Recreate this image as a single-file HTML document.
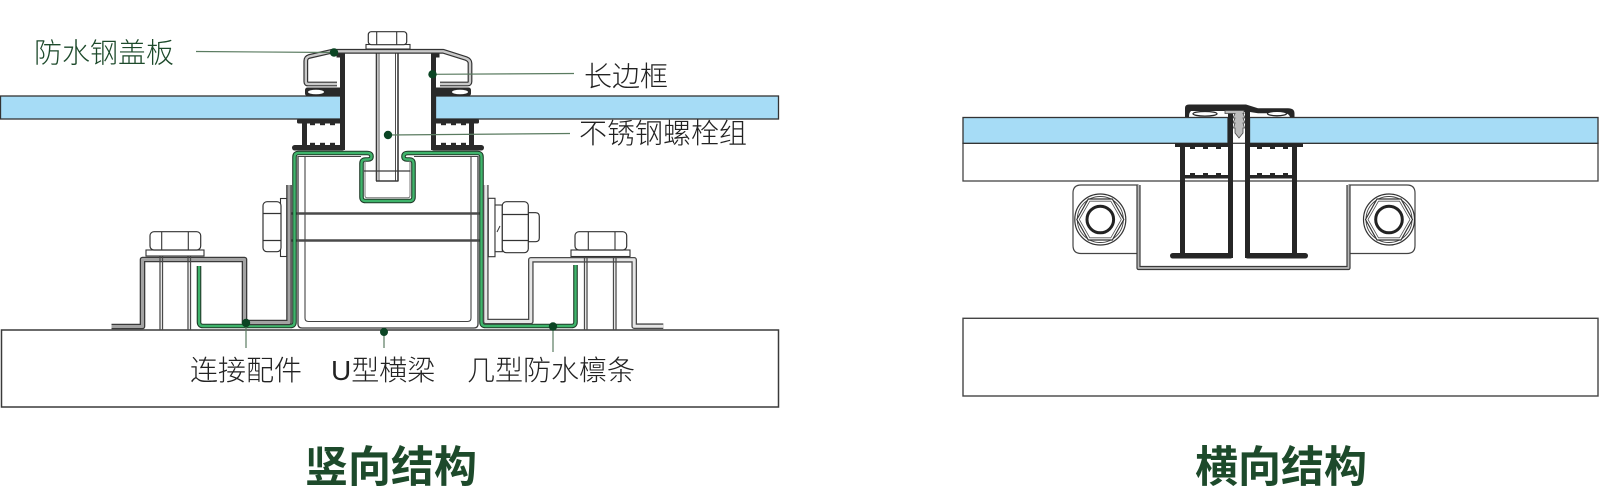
<!DOCTYPE html>
<html>
<head>
<meta charset="utf-8">
<style>
html,body{margin:0;padding:0;background:#fff;}
svg{display:block;}
text{font-family:"Liberation Sans","Noto Sans CJK SC",sans-serif;}
</style>
</head>
<body>
<svg width="1600" height="500" viewBox="0 0 1600 500" xmlns="http://www.w3.org/2000/svg">
<defs>
  <g id="bolt">
    <circle cx="0" cy="0" r="25.5" fill="#fff" stroke="#333" stroke-width="1.2"/>
    <circle cx="0" cy="0" r="23" fill="none" stroke="#444" stroke-width="0.9"/>
    <polygon points="-23.5,0 -12,-20.5 12,-20.5 23.5,0 12,20.5 -12,20.5" fill="#fff" stroke="#333" stroke-width="1.2"/>
    <polygon points="-21,0 -10.5,-18.3 10.5,-18.3 21,0 10.5,18.3 -10.5,18.3" fill="none" stroke="#555" stroke-width="0.8"/>
    <circle cx="0" cy="0" r="13.3" fill="#fff" stroke="#222" stroke-width="3"/>
  </g>
  <g id="prof">
    <!-- left aluminium frame of vertical structure -->
    <rect x="340" y="53" width="5" height="97" fill="#2a2a2a"/>
    <rect x="336.5" y="53" width="5" height="4.5" fill="#2a2a2a"/>
    <rect x="305" y="87.5" width="40" height="8.5" rx="2.5" fill="#2a2a2a"/>
    <ellipse cx="316" cy="92" rx="8" ry="2.3" fill="#fff"/>
    <rect x="297" y="119" width="48" height="4.5" rx="1.5" fill="#2a2a2a"/>
    <rect x="302" y="119" width="5" height="29" fill="#2a2a2a"/>
    <rect x="292" y="145" width="53" height="5.5" rx="2.7" fill="#2a2a2a"/>
    <rect x="310" y="123" width="5" height="2.2" fill="#2a2a2a"/>
    <rect x="320" y="123" width="5" height="2.2" fill="#2a2a2a"/>
    <rect x="330" y="123" width="5" height="2.2" fill="#2a2a2a"/>
    <rect x="310" y="142.8" width="5" height="2.2" fill="#2a2a2a"/>
    <rect x="320" y="142.8" width="5" height="2.2" fill="#2a2a2a"/>
    <rect x="330" y="142.8" width="5" height="2.2" fill="#2a2a2a"/>
  </g>
</defs>

<!-- ================= LEFT: 竖向结构 ================= -->
<rect x="1.5" y="330" width="777" height="77" fill="#fff" stroke="#3a3a3a" stroke-width="1.5"/>

<!-- glass -->
<rect x="0.5" y="96" width="340.5" height="23" fill="#a6dcf6" stroke="#333" stroke-width="1.3"/>
<rect x="435.5" y="96" width="343" height="23" fill="#a6dcf6" stroke="#333" stroke-width="1.3"/>

<!-- U beam -->
<path d="M298,156 V324 Q298,328 302,328 H474 Q478,328 478,324 V156" fill="#fff" stroke="#3a3a3a" stroke-width="1.3"/>
<path d="M305,157 V318 Q305,321.5 308.5,321.5 H467.5 Q471,321.5 471,318 V157" fill="none" stroke="#444" stroke-width="1.1"/>
<path d="M298,156.5 H361 M414,156.5 H478" stroke="#444" stroke-width="1.1" fill="none"/>

<!-- horizontal bolt -->
<line x1="263" y1="213.5" x2="536" y2="213.5" stroke="#4a4a4a" stroke-width="2.4"/>
<line x1="263" y1="240.5" x2="536" y2="240.5" stroke="#4a4a4a" stroke-width="2.4"/>

<!-- green purlin 几型防水檩条 -->
<path d="M199,266 V322 Q199,326 203,326 H290.5 Q294.5,326 294.5,322 V157 Q294.5,153 298.5,153 H367 Q371.5,153 371.5,156.5 Q371.5,159.5 368,159.5 H365.5 Q361.5,159.5 361.5,163.5 V197 Q361.5,201 365.5,201 H409.5 Q413.5,201 413.5,197 V163.5 Q413.5,159.5 409.5,159.5 H407 Q403.5,159.5 403.5,156.5 Q403.5,153 408,153 H477.5 Q481.5,153 481.5,157 V322 Q481.5,326 485.5,326 H571.5 Q575.5,326 575.5,322 V265" fill="none" stroke="#1f3a28" stroke-width="4.6" stroke-linejoin="round"/>
<path d="M199,266 V322 Q199,326 203,326 H290.5 Q294.5,326 294.5,322 V157 Q294.5,153 298.5,153 H367 Q371.5,153 371.5,156.5 Q371.5,159.5 368,159.5 H365.5 Q361.5,159.5 361.5,163.5 V197 Q361.5,201 365.5,201 H409.5 Q413.5,201 413.5,197 V163.5 Q413.5,159.5 409.5,159.5 H407 Q403.5,159.5 403.5,156.5 Q403.5,153 408,153 H477.5 Q481.5,153 481.5,157 V322 Q481.5,326 485.5,326 H571.5 Q575.5,326 575.5,322 V265" fill="none" stroke="#3fb46b" stroke-width="2.4" stroke-linejoin="round"/>
<path d="M365,160.5 V195.5 Q365,197.8 367.3,197.8 H407.7 Q410,197.8 410,195.5 V160.5" fill="none" stroke="#777" stroke-width="1"/>

<!-- Z brackets (连接配件) -->
<path d="M111.5,326.5 H142.5 V259.5 H244.5 V322.5 H289 V185" fill="none" stroke="#3a3a3a" stroke-width="5.6" stroke-linejoin="round"/>
<path d="M111.5,326.5 H142.5 V259.5 H244.5 V322.5 H289 V185" fill="none" stroke="#a3a3a3" stroke-width="3" stroke-linejoin="round"/>
<path d="M485.8,185 V321.5 H530.8 V259.8 H634.2 V326.2 H663.3" fill="none" stroke="#4a4a4a" stroke-width="5.6" stroke-linejoin="round"/>
<path d="M485.8,185 V321.5 H530.8 V259.8 H634.2 V326.2 H663.3" fill="none" stroke="#e6e6e6" stroke-width="3" stroke-linejoin="round"/>

<!-- horizontal bolt nuts -->
<rect x="280.5" y="198.5" width="6.2" height="58" fill="#fff" stroke="#333" stroke-width="1.1"/>
<rect x="263" y="201.7" width="18" height="50" rx="4" fill="#fff" stroke="#333" stroke-width="1.2"/>
<line x1="263" y1="213.5" x2="281" y2="213.5" stroke="#333" stroke-width="1.2"/>
<line x1="263" y1="240.5" x2="281" y2="240.5" stroke="#333" stroke-width="1.2"/>
<rect x="488.3" y="198.3" width="6.7" height="58.4" fill="#fff" stroke="#333" stroke-width="1.1"/>
<rect x="495" y="205" width="7.3" height="46.7" fill="#fff" stroke="#333" stroke-width="1.1"/>
<path d="M497,232 L500,226" stroke="#333" stroke-width="1"/>
<path d="M528.3,212.7 H535.5 Q539.3,212.7 539.3,216.5 V237.9 Q539.3,241.7 535.5,241.7 H528.3 Z" fill="#fff" stroke="#333" stroke-width="1.2"/>
<rect x="502.3" y="201.7" width="26" height="51" rx="4" fill="#fff" stroke="#333" stroke-width="1.2"/>
<line x1="502.3" y1="214.5" x2="528.3" y2="214.5" stroke="#333" stroke-width="1.2"/>
<line x1="502.3" y1="240.5" x2="528.3" y2="240.5" stroke="#333" stroke-width="1.2"/>

<!-- top bolts on brackets -->
<g stroke="#4a4a4a" stroke-width="1.3">
  <line x1="160" y1="256" x2="160" y2="330"/><line x1="162.5" y1="256" x2="162.5" y2="330"/>
  <line x1="188" y1="256" x2="188" y2="330"/><line x1="190.5" y1="256" x2="190.5" y2="330"/>
  <line x1="584.5" y1="256" x2="584.5" y2="330"/><line x1="587" y1="256" x2="587" y2="330"/>
  <line x1="613.5" y1="256" x2="613.5" y2="330"/><line x1="616" y1="256" x2="616" y2="330"/>
</g>
<rect x="146" y="250" width="58" height="6" fill="#fff" stroke="#333" stroke-width="1.1"/>
<rect x="150" y="231.7" width="50.7" height="18.3" rx="4" fill="#fff" stroke="#333" stroke-width="1.2"/>
<line x1="161.7" y1="231.7" x2="161.7" y2="250" stroke="#333" stroke-width="1.1"/>
<line x1="188.3" y1="231.7" x2="188.3" y2="250" stroke="#333" stroke-width="1.1"/>
<rect x="571" y="250" width="59" height="6.5" fill="#fff" stroke="#333" stroke-width="1.1"/>
<rect x="575" y="231.7" width="51.7" height="18.3" rx="4" fill="#fff" stroke="#333" stroke-width="1.2"/>
<line x1="588.3" y1="231.7" x2="588.3" y2="250" stroke="#333" stroke-width="1.1"/>
<line x1="615" y1="231.7" x2="615" y2="250" stroke="#333" stroke-width="1.1"/>

<!-- main stainless bolt -->
<g stroke="#3a3a3a">
  <line x1="376.5" y1="49" x2="376.5" y2="181" stroke-width="1.6"/>
  <line x1="379" y1="49" x2="379" y2="181" stroke-width="0.9"/>
  <line x1="395.5" y1="49" x2="395.5" y2="181" stroke-width="0.9"/>
  <line x1="398" y1="49" x2="398" y2="181" stroke-width="1.6"/>
  <line x1="376" y1="181" x2="398.5" y2="181" stroke-width="1.4"/>
  <line x1="364" y1="171" x2="410.5" y2="171" stroke-width="1.3"/>
</g>

<!-- aluminium frames -->
<use href="#prof"/>
<use href="#prof" transform="translate(776,0) scale(-1,1)"/>

<!-- cover plate 防水钢盖板 -->
<path d="M337,84 H308 Q305.8,84 305.8,81.5 V61 Q305.8,57.5 309,56.5 L331.7,51.3 H443.3 L466,58.5 Q470,60 470,63.5 V81.5 Q470,84 467.5,84 H440" fill="none" stroke="#333" stroke-width="4.8" stroke-linejoin="round"/>
<path d="M337,84 H308 Q305.8,84 305.8,81.5 V61 Q305.8,57.5 309,56.5 L331.7,51.3 H443.3 L466,58.5 Q470,60 470,63.5 V81.5 Q470,84 467.5,84 H440" fill="none" stroke="#cacaca" stroke-width="2.4" stroke-linejoin="round"/>

<!-- bolt head -->
<rect x="366" y="44.5" width="44" height="4.5" fill="#fff" stroke="#333" stroke-width="1.1"/>
<rect x="368.3" y="31.7" width="38.4" height="13" rx="3" fill="#fff" stroke="#333" stroke-width="1.2"/>
<line x1="376.7" y1="31.7" x2="376.7" y2="44.7" stroke="#333" stroke-width="1.1"/>
<line x1="396.7" y1="31.7" x2="396.7" y2="44.7" stroke="#333" stroke-width="1.1"/>

<!-- leaders -->
<g stroke="#5a7b60" stroke-width="1.2" fill="none">
  <line x1="196" y1="51.5" x2="334" y2="52.5"/>
  <line x1="432" y1="74.3" x2="574" y2="73.5"/>
  <line x1="388" y1="135" x2="570" y2="133.5"/>
  <line x1="246" y1="323" x2="246" y2="348"/>
  <line x1="384" y1="332" x2="384" y2="348"/>
  <line x1="553" y1="326.5" x2="553" y2="352"/>
</g>
<g fill="#0b4524">
  <circle cx="334" cy="52.5" r="4.2"/>
  <circle cx="432.5" cy="74.3" r="4.2"/>
  <circle cx="388" cy="135" r="4.2"/>
  <circle cx="246" cy="323" r="4.2"/>
  <circle cx="384" cy="332" r="4"/>
  <circle cx="553" cy="326.5" r="4.2"/>
</g>

<!-- labels -->
<text x="34" y="62.7" font-size="28" font-weight="300" fill="#1d4a2b">防水钢盖板</text>
<text x="584" y="86" font-size="28" font-weight="300" fill="#222">长边框</text>
<text x="579" y="143.2" font-size="28" font-weight="300" fill="#222">不锈钢螺栓组</text>
<text x="190" y="380" font-size="28" font-weight="300" fill="#222">连接配件</text>
<text x="331" y="380" font-size="28" font-weight="300" fill="#222">U型横梁</text>
<text x="467" y="380" font-size="28" font-weight="300" fill="#222">几型防水檩条</text>

<text x="391" y="482" font-size="43" font-weight="bold" fill="#1d4a2b" text-anchor="middle">竖向结构</text>

<!-- ================= RIGHT: 横向结构 ================= -->
<rect x="963" y="143.3" width="635" height="37.7" fill="#fff" stroke="#444" stroke-width="1.3"/>
<rect x="963" y="318.3" width="635" height="77.7" fill="#fff" stroke="#444" stroke-width="1.4"/>

<!-- plates -->
<path d="M1138.5,185 H1081 Q1073,185 1073,193 V245.5 Q1073,253.5 1081,253.5 H1138.5" fill="#fff" stroke="#444" stroke-width="1.2"/>
<path d="M1348.5,185 H1407 Q1415,185 1415,193 V245.5 Q1415,253.5 1407,253.5 H1348.5" fill="#fff" stroke="#444" stroke-width="1.2"/>
<!-- U channel -->
<path d="M1138.5,185 V268 H1348.5 V185" fill="none" stroke="#3a3a3a" stroke-width="4.2" stroke-linejoin="round"/>
<path d="M1138.5,185 V268 H1348.5 V185" fill="none" stroke="#b8b8b8" stroke-width="1.8" stroke-linejoin="round"/>

<use href="#bolt" x="1100.3" y="219.5"/>
<use href="#bolt" x="1389" y="219.5"/>

<!-- glass -->
<rect x="963" y="117.5" width="265" height="25.8" fill="#a6dcf6" stroke="#333" stroke-width="1.3"/>
<rect x="1249.5" y="117.5" width="348.5" height="25.8" fill="#a6dcf6" stroke="#333" stroke-width="1.3"/>

<!-- profiles -->
<g fill="#262626">
  <!-- left profile -->
  <rect x="1175" y="143" width="58" height="4"/>
  <rect x="1180" y="143" width="5" height="113"/>
  <rect x="1228" y="110" width="5" height="148"/>
  <rect x="1180" y="175" width="53" height="3.5"/>
  <rect x="1170" y="253" width="63" height="5.5" rx="2.7"/>
  <rect x="1190" y="147" width="5" height="2"/><rect x="1203" y="147" width="5" height="2"/><rect x="1216" y="147" width="5" height="2"/>
  <rect x="1190" y="173" width="5" height="2"/><rect x="1203" y="173" width="5" height="2"/><rect x="1216" y="173" width="5" height="2"/>
  <!-- right profile -->
  <rect x="1245" y="143" width="58" height="4"/>
  <rect x="1245" y="110" width="5" height="148"/>
  <rect x="1292" y="143" width="5" height="113"/>
  <rect x="1245" y="175" width="52" height="3.5"/>
  <rect x="1245" y="253" width="63" height="5.5" rx="2.7"/>
  <rect x="1257" y="147" width="5" height="2"/><rect x="1270" y="147" width="5" height="2"/><rect x="1283" y="147" width="5" height="2"/>
  <rect x="1257" y="173" width="5" height="2"/><rect x="1270" y="173" width="5" height="2"/><rect x="1283" y="173" width="5" height="2"/>
  <!-- cap -->
  <path d="M1185,117 V108 Q1185,104.5 1189,104.5 H1246 L1258,108.3 H1288 Q1294.5,108.3 1294.5,113.5 V117 H1290 Q1289,113.8 1285,113.3 H1258 L1250,112 H1233 V111 H1191 Q1189,112.5 1189,117 Z"/>
</g>
<ellipse cx="1205" cy="113.8" rx="12" ry="2.3" fill="#fff" stroke="#262626" stroke-width="1.3"/>
<ellipse cx="1277" cy="113.6" rx="9.5" ry="2.2" fill="#fff" stroke="#262626" stroke-width="1.3"/>
<path d="M1225,110.5 H1244 V113.5 H1243 L1245,118 L1243,118 L1245,123 L1243,123 L1244.5,128 L1243,128 V133 L1239,138 L1235,133 V128 L1233.5,128 L1235,123 L1233,123 L1235,118 L1233,118 L1235,113.5 H1225 Z" fill="#bdbdbd" stroke="#444" stroke-width="0.8"/>

<text x="1281" y="482" font-size="43" font-weight="bold" fill="#1d4a2b" text-anchor="middle">横向结构</text>
</svg>
</body>
</html>
